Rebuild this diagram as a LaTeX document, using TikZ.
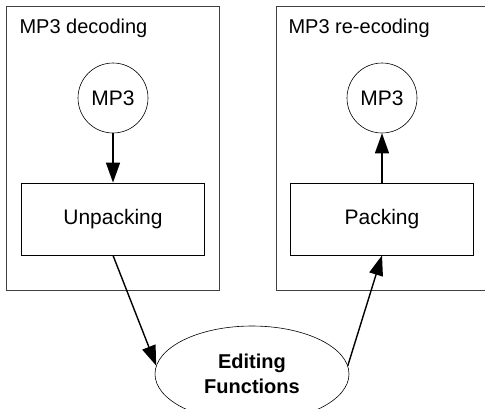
\documentclass[tikz,border=0pt]{standalone}
\usepackage{fontspec}
\setmainfont{Liberation Sans}
\usetikzlibrary{arrows.meta,shapes.geometric}

\begin{document}
\begin{tikzpicture}[x=1pt, y=-1pt,
  every node/.style = {align=center, font=\fontsize{21}{25}\selectfont},
  stage/.style = {draw, line width=0.8pt, minimum width=183pt, minimum height=72pt},
  file/.style = {draw, circle, line width=0.6pt, minimum size=70pt, inner sep=0pt},
  group/.style = {draw=black!75, line width=1pt},
  title/.style = {anchor=base west, font=\fontsize{20}{24}\selectfont},
  flow/.style = {-{Triangle[length=20pt,width=14pt]}, line width=1.4pt}]
  \useasboundingbox (0,0) rectangle (485,408);
  % the two stages
  \draw[group] (6,6) rectangle (219,290);
  \draw[group] (276,6) rectangle (495,290);
  \node[title] (dectitle) at (16,33) {MP3 decoding};
  \node[title] (enctitle) at (285,33) {MP3 re-ecoding};
  % decoding side
  \node[file] (mp3in) at (113,98) {MP3};
  \node[stage] (unpack) at (113,219) {Unpacking};
  % re-encoding side
  \node[file] (mp3out) at (382,98) {MP3};
  \node[stage] (pack) at (382,219) {Packing};
  % in between
  \node[draw, ellipse, line width=0.6pt, minimum width=194pt, minimum height=96pt,
        font=\bfseries\fontsize{20}{25}\selectfont] (edit) at (252,374) {Editing\\Functions};
  \draw[flow] (mp3in) -- (unpack);
  \draw[flow] (pack) -- (mp3out);
  \draw[flow] (unpack.south) -- (edit.175);
  \draw[flow] (edit.5) -- (pack.south);
\end{tikzpicture}
\end{document}
